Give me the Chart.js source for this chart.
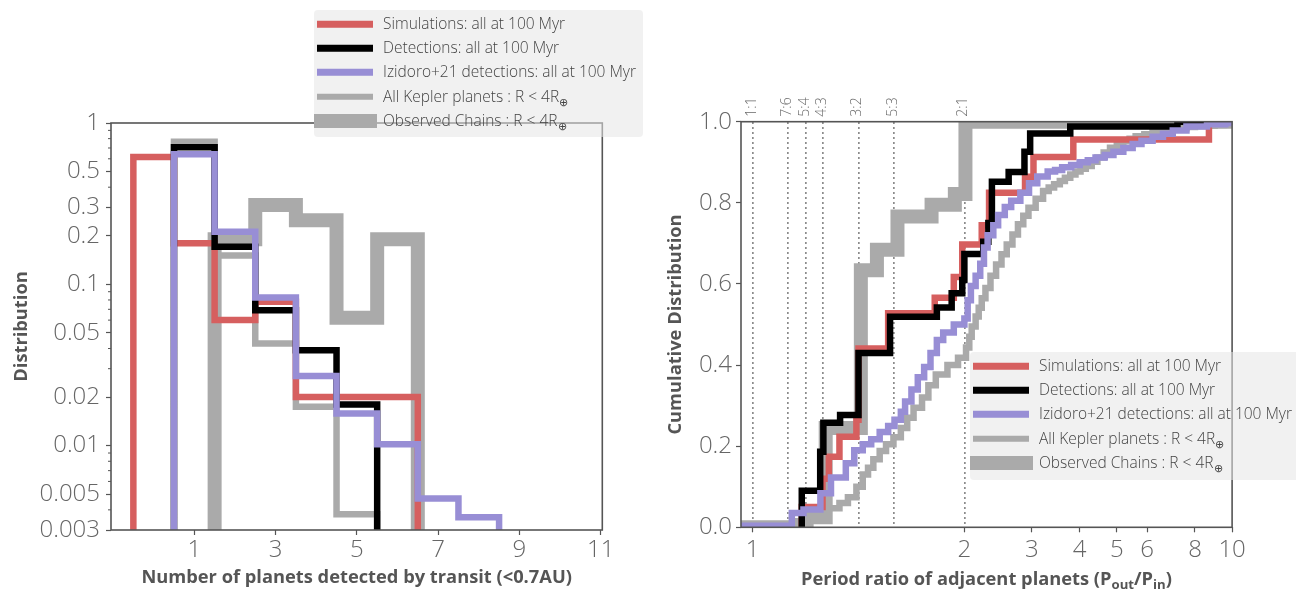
<!DOCTYPE html>
<html>
<head>
<meta charset="utf-8">
<script src="https://cdn.jsdelivr.net/npm/chart.js@4.4.1/dist/chart.umd.min.js"></script>
<style>
  html, body { margin: 0; padding: 0; background: #fff; }
  body { width: 1296px; height: 590px; overflow: hidden; position: relative; font-family: "Open Sans", sans-serif; }
  .panel { position: absolute; top: 0; }
  .legend { position: absolute; background: rgba(229,229,229,0.55); border-radius: 4px; box-sizing: border-box; padding-top: 2px; }
  .row { position: relative; height: 24.2px; }
  .sw { position: absolute; left: 3.3px; width: 56px; height: 6.5px; top: 50%; transform: translateY(-50%); }
  .sw.thick { left: 0; width: 62.7px; height: 14px; }
  .lbl { position: absolute; left: 69px; top: 50%; transform: translateY(-52%); font-weight: 300; font-size: 15.5px; color: #444; white-space: nowrap; line-height: 1; }
  .lbl sub { font-size: 0.72em; vertical-align: -0.35em; line-height: 0; }
  .xtitle { position: absolute; text-align: center; font-weight: 700; font-size: 18.3px; color: #555; line-height: 22px; white-space: nowrap; }
  .xtitle sub { font-size: 0.72em; vertical-align: -0.3em; line-height: 0; }
</style>
</head>
<body>
<div class="panel" style="left:0;width:640px;height:590px"><canvas id="histChart" width="640" height="590"></canvas></div>
<div class="panel" style="left:640px;width:656px;height:590px"><canvas id="cdfChart" width="656" height="590"></canvas></div>
<div id="legendHist" class="legend" style="left:314px;top:10px;width:329px;height:127px"></div>
<div id="legendCdf" class="legend" style="left:970px;top:352px;width:340px;height:128px"></div>
<div class="xtitle" style="left:741px;width:491px;top:567px">Period ratio of adjacent planets (P<sub>out</sub>/P<sub>in</sub>)</div>

<script>
// ---------- series styling ----------
const SERIES_NAMES = [
  'Simulations: all at 100 Myr',
  'Detections: all at 100 Myr',
  'Izidoro+21 detections: all at 100 Myr',
  'All Kepler planets : R &lt; 4R<sub>⊕</sub>',
  'Observed Chains : R &lt; 4R<sub>⊕</sub>'
];
const SERIES_COLORS = ['#d65f5f', '#000000', '#988ed5', '#aaaaaa', '#aaaaaa'];
const SERIES_WIDTHS = [6.5, 6.5, 6.5, 6.5, 14];
const SERIES_ORDER  = [2, 1, 0, 3, 4];   // smaller order is drawn on top

// ---------- left panel: multiplicity histograms (fraction per bin) ----------
const simFirstBin = 0;
const simHist     = [0.615, 0.18, 0.06, 0.078, 0.02, 0.02, 0.02];
const detFirstBin = 1;
const detHist     = [0.707, 0.171, 0.069, 0.039, 0.018];
const izFirstBin  = 1;
const izHist      = [0.64, 0.212, 0.083, 0.027, 0.0158, 0.0102, 0.0047, 0.0036];
const kepFirstBin = 1;
const kepHist     = [0.765, 0.151, 0.043, 0.0174, 0.00375];
const chainFirstBin = 2;
const chainHist   = [0.19, 0.31, 0.25, 0.062, 0.19];

const HIST_X_MIN = -1.05, HIST_X_MAX = 11.04;
const HIST_Y_MIN = 0.003, HIST_Y_MAX = 1;
const HIST_X_TICKS = [1, 3, 5, 7, 9, 11];
const HIST_Y_TICKS = [1, 0.5, 0.3, 0.2, 0.1, 0.05, 0.02, 0.01, 0.005, 0.003];
const HIST_BASE = 1e-6;   // empty bins: well below the axis floor

// ---------- right panel: cumulative period-ratio distributions ----------
const simRatio = [1.232, 1.232, 1.33, 1.36, 1.41, 1.49, 1.50, 1.64, 1.86, 1.95, 1.99, 2.22, 2.32, 2.88, 3.03, 3.85, 8.7];
const simCdf   = [0, 0.05, 0.12, 0.174, 0.223, 0.265, 0.441, 0.528, 0.566, 0.617, 0.697, 0.745, 0.825, 0.864, 0.913, 0.956, 1.0];

const detRatio = [1.232, 1.232, 1.319, 1.334, 1.413, 1.50, 1.649, 1.87, 1.94, 1.99, 2.0, 2.24, 2.31, 2.36, 2.61, 2.87, 2.97, 3.78, 7.2];
const detCdf   = [0, 0.090, 0.186, 0.258, 0.277, 0.430, 0.519, 0.542, 0.577, 0.61, 0.674, 0.704, 0.75, 0.852, 0.876, 0.926, 0.971, 0.988, 1.0];

const izRatio = [0.9, 1.185, 1.24, 1.32, 1.37, 1.44, 1.48, 1.52, 1.56, 1.60, 1.64, 1.67, 1.70, 1.72, 1.75, 1.78, 1.81, 1.84, 1.87, 1.90, 1.95, 2.0, 2.04, 2.08, 2.14, 2.2, 2.25, 2.3, 2.38, 2.45, 2.55, 2.65, 2.8, 2.95, 3.1, 3.3, 3.45, 3.6, 3.8, 4.0, 4.2, 4.4, 4.65, 4.9, 5.2, 5.5, 5.8, 6.2, 6.6, 7.0, 7.6, 8.6, 9.6];
const izCdf   = [0.004, 0.035, 0.044, 0.084, 0.123, 0.158, 0.19, 0.205, 0.217, 0.235, 0.25, 0.265, 0.285, 0.31, 0.34, 0.37, 0.395, 0.43, 0.462, 0.48, 0.5, 0.515, 0.56, 0.595, 0.62, 0.65, 0.69, 0.72, 0.745, 0.77, 0.79, 0.805, 0.825, 0.848, 0.865, 0.877, 0.881, 0.888, 0.893, 0.9, 0.905, 0.912, 0.918, 0.926, 0.935, 0.945, 0.953, 0.963, 0.97, 0.978, 0.988, 0.994, 0.997];

const kepRatio = [0.9, 1.2, 1.26, 1.35, 1.41, 1.45, 1.49, 1.52, 1.545, 1.57, 1.6, 1.63, 1.665, 1.7, 1.73, 1.76, 1.8, 1.83, 1.865, 1.92, 1.97, 2.02, 2.06, 2.09, 2.14, 2.18, 2.22, 2.27, 2.34, 2.42, 2.5, 2.58, 2.67, 2.76, 2.85, 2.94, 3.07, 3.21, 3.32, 3.43, 3.55, 3.66, 3.78, 3.9, 4.02, 4.15, 4.3, 4.45, 4.62, 4.8, 5.0, 5.2, 5.4, 5.6, 5.9, 6.2, 6.5, 6.8, 7.2, 7.6, 8.0, 8.4, 9.0, 9.5];
const kepCdf   = [0.006, 0.015, 0.03, 0.047, 0.06, 0.074, 0.1, 0.13, 0.147, 0.168, 0.188, 0.205, 0.222, 0.245, 0.27, 0.295, 0.32, 0.35, 0.377, 0.4, 0.418, 0.443, 0.47, 0.495, 0.52, 0.541, 0.565, 0.59, 0.62, 0.648, 0.673, 0.697, 0.722, 0.747, 0.768, 0.788, 0.81, 0.829, 0.838, 0.846, 0.854, 0.862, 0.87, 0.877, 0.884, 0.891, 0.901, 0.912, 0.924, 0.936, 0.944, 0.952, 0.958, 0.964, 0.969, 0.974, 0.978, 0.981, 0.984, 0.987, 0.989, 0.99, 0.992, 0.993];

const chainRatio = [0.9, 1.255, 1.345, 1.511, 1.587, 1.684, 1.845, 1.955, 2.013];
const chainCdf   = [0, 0.025, 0.245, 0.634, 0.684, 0.766, 0.795, 0.822, 1.0];

const RATIO_MIN = 0.945, RATIO_MAX = 10;
const RATIO_TICKS = [1, 2, 3, 4, 5, 6, 8, 10];
const RES_VALUES = [1, 7/6, 5/4, 4/3, 3/2, 5/3, 2];
const RES_LABELS = ['1:1', '7:6', '5:4', '4:3', '3:2', '5:3', '2:1'];
const CDF_Y_TICKS = [0, 0.2, 0.4, 0.6, 0.8, 1.0];

// ---------- shared look ----------
const FAMILY = '"Open Sans", sans-serif';
const AXIS_COLOR = '#555';
const TICK_LABEL_COLOR = '#666';
const TICK_FONT = { family: FAMILY, size: 24, weight: 300 };
const TITLE_FONT = { family: FAMILY, size: 18.3, weight: 'bold' };
const RES_FONT = { family: FAMILY, size: 14, weight: 300 };

// Period-ratio axis: linear between 1 and 2, logarithmic above 2.
const LIN_END = 2;
const LOG_STRETCH = 1.809;   // width of one decade relative to the 1→2 span
function ratioFwd(v) { return v <= LIN_END ? v - 1 : 1 + LOG_STRETCH * Math.log10(v / LIN_END); }
function ratioInv(t) { return t <= 1 ? t + 1 : LIN_END * Math.pow(10, (t - 1) / LOG_STRETCH); }

class RatioScale extends Chart.Scale {
  determineDataLimits() {
    const { min, max } = this.getMinMax(true);
    const o = this.options;
    this.min = Number.isFinite(o.min) ? o.min : min;
    this.max = Number.isFinite(o.max) ? o.max : max;
  }
  buildTicks() { return []; }
  configure() {
    super.configure();
    this._t0 = ratioFwd(this.min);
    this._tr = ratioFwd(this.max) - this._t0;
  }
  getLabelForValue(v) { return String(v); }
  getPixelForValue(v) { return this.getPixelForDecimal((ratioFwd(v) - this._t0) / this._tr); }
  getValueForPixel(p) { return ratioInv(this._t0 + this.getDecimalForPixel(p) * this._tr); }
}
RatioScale.id = 'ratio';
RatioScale.defaults = {};
Chart.register(RatioScale);

// ---------- helpers ----------
function histOutline(firstBin, values) {
  const left = firstBin - 0.5;
  const pts = [{ x: left, y: HIST_BASE }];
  values.forEach((v, i) => pts.push({ x: left + i, y: v }));
  pts.push({ x: left + values.length, y: HIST_BASE });
  return pts;
}
function cdfPoints(xs, ys) {
  const pts = xs.map((x, i) => ({ x, y: ys[i] }));
  pts.push({ x: RATIO_MAX * 1.2, y: ys[ys.length - 1] });
  return pts;
}
function stepDataset(i, data) {
  return {
    label: SERIES_NAMES[i], data,
    borderColor: SERIES_COLORS[i], borderWidth: SERIES_WIDTHS[i],
    order: SERIES_ORDER[i], stepped: true, pointRadius: 0, fill: false,
    borderJoinStyle: 'miter', borderCapStyle: 'butt', clip: 0
  };
}
const tickValues = vals => s => { s.ticks = vals.map(v => ({ value: v })); };

const framePlugin = {
  id: 'frame',
  afterDraw(chart) {
    const { ctx, chartArea: a } = chart;
    ctx.save();
    ctx.strokeStyle = AXIS_COLOR;
    ctx.lineWidth = 1.6;
    ctx.strokeRect(a.left, a.top, a.right - a.left, a.bottom - a.top);
    // short minor ticks on a log axis, if any
    const minor = chart.options.plugins.frame && chart.options.plugins.frame.minorY;
    if (minor) {
      const y = chart.scales.y;
      ctx.lineWidth = 1;
      ctx.beginPath();
      minor.forEach(v => {
        const py = y.getPixelForValue(v);
        ctx.moveTo(a.left - 3, py);
        ctx.lineTo(a.left, py);
      });
      ctx.stroke();
    }
    ctx.restore();
  }
};

// unlabelled 1..9 × 10^k positions on the log axis
const HIST_MINOR_TICKS = [];
for (let d = -3; d <= 0; d++) {
  for (let k = 1; k <= 9; k++) {
    const v = +(k * Math.pow(10, d)).toPrecision(3);
    if (v >= HIST_Y_MIN && v <= HIST_Y_MAX && !HIST_Y_TICKS.some(t => Math.abs(t - v) < 1e-9)) HIST_MINOR_TICKS.push(v);
  }
}

const baseTicks = (length) => ({
  display: true, drawOnChartArea: false, drawTicks: true,
  tickLength: length, tickColor: AXIS_COLOR, tickWidth: 1.2
});

// ---------- left chart ----------
new Chart(document.getElementById('histChart'), {
  type: 'line',
  data: {
    datasets: [
      stepDataset(0, histOutline(simFirstBin, simHist)),
      stepDataset(1, histOutline(detFirstBin, detHist)),
      stepDataset(2, histOutline(izFirstBin, izHist)),
      stepDataset(3, histOutline(kepFirstBin, kepHist)),
      stepDataset(4, histOutline(chainFirstBin, chainHist))
    ]
  },
  options: {
    responsive: false, animation: false, devicePixelRatio: 1,
    layout: { padding: { top: 123, right: 37.7, left: 0, bottom: 0 } },
    plugins: { legend: { display: false }, tooltip: { enabled: false }, frame: { minorY: HIST_MINOR_TICKS } },
    scales: {
      x: {
        type: 'linear', min: HIST_X_MIN, max: HIST_X_MAX,
        afterBuildTicks: tickValues(HIST_X_TICKS),
        afterFit: s => { s.height = 60; },
        grid: baseTicks(5), border: { display: false },
        ticks: { autoSkip: false, maxRotation: 0, padding: 1, color: TICK_LABEL_COLOR, font: TICK_FONT },
        title: { display: true, text: 'Number of planets detected by transit (<0.7AU)', color: AXIS_COLOR, font: TITLE_FONT, padding: { top: 0, bottom: 1 } }
      },
      y: {
        type: 'logarithmic', min: HIST_Y_MIN, max: HIST_Y_MAX,
        afterBuildTicks: tickValues(HIST_Y_TICKS),
        afterFit: s => { s.width = 111; },
        grid: baseTicks(5), border: { display: false },
        ticks: { autoSkip: false, padding: 6, color: TICK_LABEL_COLOR, font: TICK_FONT, callback: v => String(v) },
        title: { display: true, text: 'Distribution', color: AXIS_COLOR, font: TITLE_FONT, padding: { top: 11, bottom: 0 } }
      }
    }
  },
  plugins: [framePlugin]
});

// ---------- right chart ----------
new Chart(document.getElementById('cdfChart'), {
  type: 'line',
  data: {
    datasets: [
      stepDataset(0, cdfPoints(simRatio, simCdf)),
      stepDataset(1, cdfPoints(detRatio, detCdf)),
      stepDataset(2, cdfPoints(izRatio, izCdf)),
      stepDataset(3, cdfPoints(kepRatio, kepCdf)),
      stepDataset(4, cdfPoints(chainRatio, chainCdf))
    ]
  },
  options: {
    responsive: false, animation: false, devicePixelRatio: 1,
    layout: { padding: { top: 0, right: 63.9, left: 0, bottom: 0 } },
    plugins: { legend: { display: false }, tooltip: { enabled: false } },
    scales: {
      x: {
        type: 'ratio', position: 'bottom', min: RATIO_MIN, max: RATIO_MAX,
        afterBuildTicks: tickValues(RATIO_TICKS),
        afterFit: s => { s.height = 62.7; },
        grid: baseTicks(5), border: { display: false },
        ticks: { autoSkip: false, maxRotation: 0, padding: 3, color: TICK_LABEL_COLOR, font: TICK_FONT }
      },
      xTop: {
        type: 'ratio', position: 'top', min: RATIO_MIN, max: RATIO_MAX, z: 1,
        afterBuildTicks: tickValues(RES_VALUES),
        afterFit: s => { s.height = 121.7; },
        grid: { display: true, drawOnChartArea: true, drawTicks: false, color: '#8c8c8c', lineWidth: 1.7 },
        border: { display: false, dash: [2, 3] },
        ticks: {
          autoSkip: false, minRotation: 90, maxRotation: 90, padding: 5,
          labelOffset: RES_FONT.size * 1.2 - 1,
          color: '#6a6a6a', font: RES_FONT,
          callback: (v, i) => RES_LABELS[i]
        }
      },
      y: {
        type: 'linear', min: 0, max: 1,
        afterBuildTicks: tickValues(CDF_Y_TICKS),
        afterFit: s => { s.width = 101; },
        grid: baseTicks(5), border: { display: false },
        ticks: { autoSkip: false, padding: 4, color: TICK_LABEL_COLOR, font: TICK_FONT, callback: v => v.toFixed(1) },
        title: { display: true, text: 'Cumulative Distribution', color: AXIS_COLOR, font: TITLE_FONT, padding: { top: 25, bottom: 0 } }
      }
    }
  },
  plugins: [framePlugin]
});

// ---------- legends ----------
function buildLegend(id) {
  const box = document.getElementById(id);
  SERIES_NAMES.forEach((name, i) => {
    const row = document.createElement('div');
    row.className = 'row';
    const sw = document.createElement('div');
    sw.className = 'sw' + (SERIES_WIDTHS[i] > 10 ? ' thick' : '');
    sw.style.background = SERIES_COLORS[i];
    const lbl = document.createElement('div');
    lbl.className = 'lbl';
    lbl.innerHTML = name;
    row.appendChild(sw);
    row.appendChild(lbl);
    box.appendChild(row);
  });
}
buildLegend('legendHist');
buildLegend('legendCdf');
</script>
</body>
</html>
